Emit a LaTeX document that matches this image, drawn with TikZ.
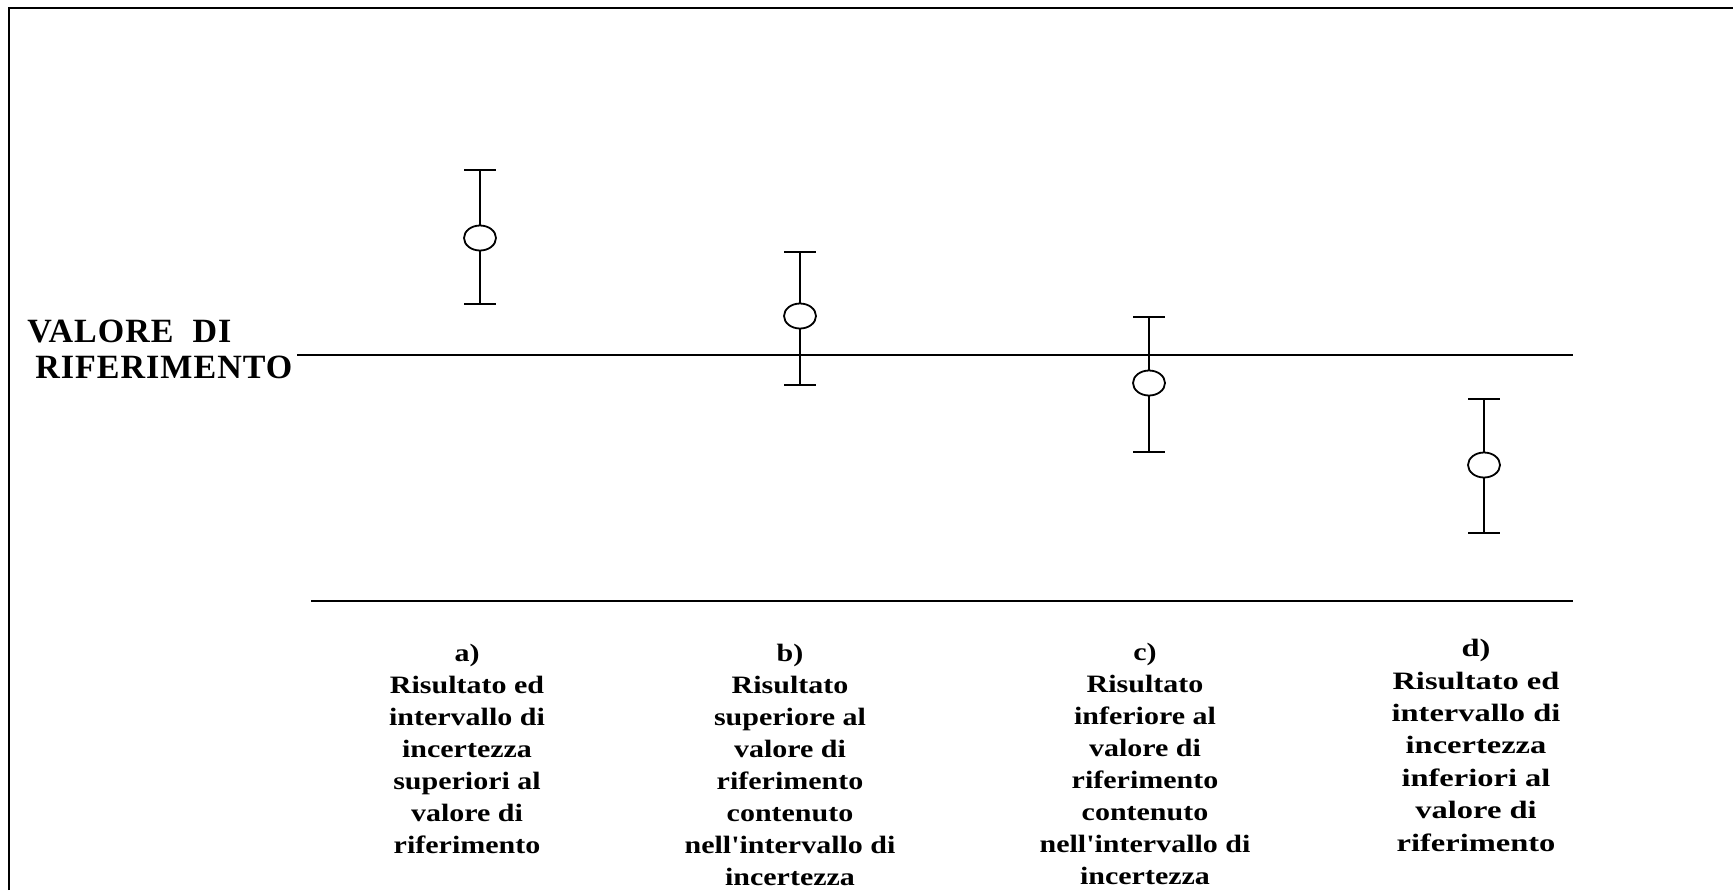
\documentclass[tikz,border=0pt]{standalone}
\usepackage{fontspec}
\setmainfont{Liberation Serif}
\newfontfamily\labfont[FakeStretch=1.2]{Liberation Serif}
\newfontfamily\labfontd[FakeStretch=1.3]{Liberation Serif}
\newfontfamily\ttlfont[LetterSpace=3]{Liberation Serif}
\usetikzlibrary{shapes.geometric}
\begin{document}
\begin{tikzpicture}[x=0.5pt,y=-0.5pt,
  frame/.style={line width=1.1pt},
  ln/.style={line width=1pt},
  pt/.style={ellipse,draw,line width=0.9pt,fill=white,minimum width=16pt,minimum height=12.5pt,inner sep=0pt},
  bar/.style={line width=1pt},
  lab/.style={align=center,anchor=north,inner sep=0pt,font=\labfont\bfseries\fontsize{12.5}{16}\selectfont},
  labd/.style={lab,font=\labfontd\bfseries\fontsize{12.5}{16.2}\selectfont},
  ttl/.style={anchor=base west,inner sep=0pt,font=\ttlfont\bfseries\fontsize{17}{20}\selectfont}]
\useasboundingbox (0,0) rectangle (1733,890);
% frame
\coordinate (fbl) at (9,890);
\coordinate (ftl) at (9,8);
\coordinate (ftr) at (1733,8);
\draw[frame] (fbl) -- (ftl) -- (ftr);
% reference line and base line
\coordinate (r1) at (297,355);
\coordinate (r2) at (1573,355);
\draw[ln] (r1) -- (r2);
\coordinate (b1) at (311,601);
\coordinate (b2) at (1573,601);
\draw[ln] (b1) -- (b2);
% title
\node[ttl] (t1) at (27,342) {VALORE\ \ DI};
\node[ttl] (t2) at (35,378) {RIFERIMENTO};
% error bars
\foreach \n/\x/\t/\c/\b in {a/480/170/238/304, b/800/252/316/385, c/1149/317/383/452, d/1484/399/465/533}{
  \coordinate (\n tl) at (\x-16,\t);
  \coordinate (\n tr) at (\x+16,\t);
  \coordinate (\n t) at (\x,\t);
  \coordinate (\n bl) at (\x-16,\b);
  \coordinate (\n br) at (\x+16,\b);
  \coordinate (\n b) at (\x,\b);
  \node[pt] (\n p) at (\x,\c) {};
  \draw[bar] (\n tl) -- (\n tr);
  \draw[bar] (\n bl) -- (\n br);
  \draw[bar] (\n t) -- (\n p.north);
  \draw[bar] (\n p.south) -- (\n b);
}
% labels
\node[lab] (la) at (467,644) {a)\\Risultato ed\\intervallo di\\incertezza\\superiori al\\valore di\\riferimento};
\node[lab] (lb) at (790,644) {b)\\Risultato\\superiore al\\valore di\\riferimento\\contenuto\\nell'intervallo di\\incertezza};
\node[lab] (lc) at (1145,643) {c)\\Risultato\\inferiore al\\valore di\\riferimento\\contenuto\\nell'intervallo di\\incertezza};
\node[labd] (ld) at (1476,639) {d)\\Risultato ed\\intervallo di\\incertezza\\inferiori al\\valore di\\riferimento};
\end{tikzpicture}
\end{document}
